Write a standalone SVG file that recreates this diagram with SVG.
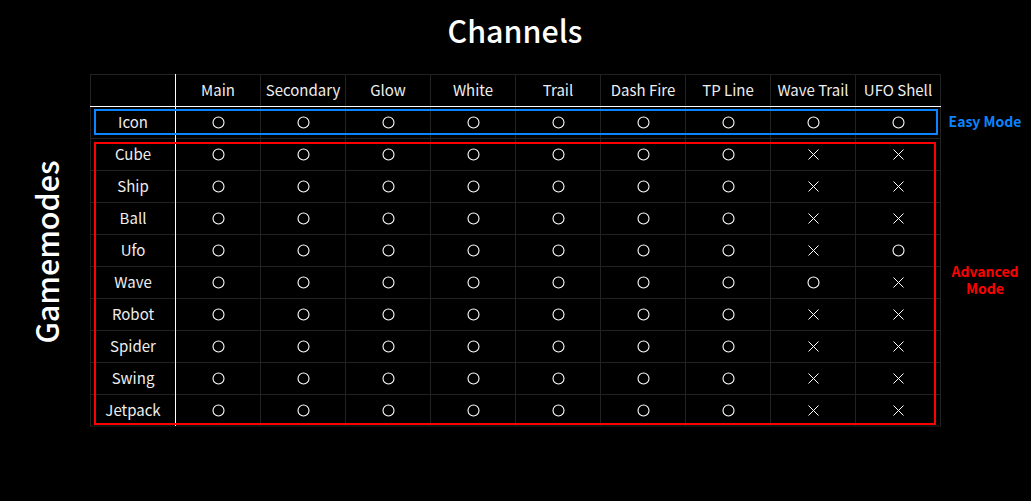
<svg xmlns="http://www.w3.org/2000/svg" width="1031" height="501" viewBox="0 0 1031 501">
<defs>
<style>
text{font-family:"Noto Sans CJK JP","Noto Sans",sans-serif;fill:#eeeeee}
.h{font-size:15px;text-anchor:middle}
.grid line{stroke:#222;stroke-width:1}
.o{fill:none;stroke:#fff;stroke-width:1.1}
.x{stroke:#fff;stroke-width:1}
.title{font-size:30.4px;text-anchor:middle;fill:#fff;font-weight:500}
.lbl{font-size:14px;font-weight:bold;text-anchor:middle}
</style>
<symbol id="O" overflow="visible"><circle class="o" cx="0" cy="0" r="5.5"/></symbol>
<symbol id="X" overflow="visible"><path class="x" d="M-5,-5L5,5M5,-5L-5,5"/></symbol>
</defs>
<rect width="1031" height="501" fill="#000"/>
<text class="title" x="515" y="43">Channels</text>
<text class="title" transform="translate(59,252) rotate(-90)">Gamemodes</text>
<g id="grid" class="grid">
<rect x="90.5" y="74.5" width="850" height="351.5" fill="none" stroke="#222"/>
<line x1="260.5" y1="74" x2="260.5" y2="426"/><line x1="345.5" y1="74" x2="345.5" y2="426"/><line x1="430.5" y1="74" x2="430.5" y2="426"/><line x1="515.5" y1="74" x2="515.5" y2="426"/><line x1="600.5" y1="74" x2="600.5" y2="426"/><line x1="685.5" y1="74" x2="685.5" y2="426"/><line x1="770.5" y1="74" x2="770.5" y2="426"/><line x1="855.5" y1="74" x2="855.5" y2="426"/>
<line x1="90" y1="138.5" x2="941" y2="138.5"/><line x1="90" y1="170.5" x2="941" y2="170.5"/><line x1="90" y1="202.5" x2="941" y2="202.5"/><line x1="90" y1="234.5" x2="941" y2="234.5"/><line x1="90" y1="266.5" x2="941" y2="266.5"/><line x1="90" y1="298.5" x2="941" y2="298.5"/><line x1="90" y1="330.5" x2="941" y2="330.5"/><line x1="90" y1="362.5" x2="941" y2="362.5"/><line x1="90" y1="394.5" x2="941" y2="394.5"/>
<line x1="90" y1="106.5" x2="941" y2="106.5" style="stroke:#fff"/>
<line x1="175.5" y1="74" x2="175.5" y2="426" style="stroke:#fff"/>
</g>
<g id="header">
<text class="h" x="218" y="96">Main</text><text class="h" x="303" y="96">Secondary</text><text class="h" x="388" y="96">Glow</text><text class="h" x="473" y="96">White</text><text class="h" x="558" y="96">Trail</text><text class="h" x="643" y="96">Dash Fire</text><text class="h" x="728" y="96">TP Line</text><text class="h" x="813" y="96">Wave Trail</text><text class="h" x="898" y="96">UFO Shell</text>
</g>
<g id="rows">
<text class="h" x="133" y="128">Icon</text>
<text class="h" x="133" y="160">Cube</text>
<text class="h" x="133" y="192">Ship</text>
<text class="h" x="133" y="224">Ball</text>
<text class="h" x="133" y="256">Ufo</text>
<text class="h" x="133" y="288">Wave</text>
<text class="h" x="133" y="320">Robot</text>
<text class="h" x="133" y="352">Spider</text>
<text class="h" x="133" y="384">Swing</text>
<text class="h" x="133" y="416">Jetpack</text>
</g>
<g id="marks">
<g id="r-icon" transform="translate(0,122.5)"><use href="#O" x="218.5"/><use href="#O" x="303.5"/><use href="#O" x="388.5"/><use href="#O" x="473.5"/><use href="#O" x="558.5"/><use href="#O" x="643.5"/><use href="#O" x="728.5"/><use href="#O" x="813.5"/><use href="#O" x="898.5"/></g>
<g id="r-cube" transform="translate(0,154.5)"><use href="#O" x="218.5"/><use href="#O" x="303.5"/><use href="#O" x="388.5"/><use href="#O" x="473.5"/><use href="#O" x="558.5"/><use href="#O" x="643.5"/><use href="#O" x="728.5"/><use href="#X" x="813.5"/><use href="#X" x="898.5"/></g>
<g id="r-ship" transform="translate(0,186.5)"><use href="#O" x="218.5"/><use href="#O" x="303.5"/><use href="#O" x="388.5"/><use href="#O" x="473.5"/><use href="#O" x="558.5"/><use href="#O" x="643.5"/><use href="#O" x="728.5"/><use href="#X" x="813.5"/><use href="#X" x="898.5"/></g>
<g id="r-ball" transform="translate(0,218.5)"><use href="#O" x="218.5"/><use href="#O" x="303.5"/><use href="#O" x="388.5"/><use href="#O" x="473.5"/><use href="#O" x="558.5"/><use href="#O" x="643.5"/><use href="#O" x="728.5"/><use href="#X" x="813.5"/><use href="#X" x="898.5"/></g>
<g id="r-ufo" transform="translate(0,250.5)"><use href="#O" x="218.5"/><use href="#O" x="303.5"/><use href="#O" x="388.5"/><use href="#O" x="473.5"/><use href="#O" x="558.5"/><use href="#O" x="643.5"/><use href="#O" x="728.5"/><use href="#X" x="813.5"/><use href="#O" x="898.5"/></g>
<g id="r-wave" transform="translate(0,282.5)"><use href="#O" x="218.5"/><use href="#O" x="303.5"/><use href="#O" x="388.5"/><use href="#O" x="473.5"/><use href="#O" x="558.5"/><use href="#O" x="643.5"/><use href="#O" x="728.5"/><use href="#O" x="813.5"/><use href="#X" x="898.5"/></g>
<g id="r-robot" transform="translate(0,314.5)"><use href="#O" x="218.5"/><use href="#O" x="303.5"/><use href="#O" x="388.5"/><use href="#O" x="473.5"/><use href="#O" x="558.5"/><use href="#O" x="643.5"/><use href="#O" x="728.5"/><use href="#X" x="813.5"/><use href="#X" x="898.5"/></g>
<g id="r-spider" transform="translate(0,346.5)"><use href="#O" x="218.5"/><use href="#O" x="303.5"/><use href="#O" x="388.5"/><use href="#O" x="473.5"/><use href="#O" x="558.5"/><use href="#O" x="643.5"/><use href="#O" x="728.5"/><use href="#X" x="813.5"/><use href="#X" x="898.5"/></g>
<g id="r-swing" transform="translate(0,378.5)"><use href="#O" x="218.5"/><use href="#O" x="303.5"/><use href="#O" x="388.5"/><use href="#O" x="473.5"/><use href="#O" x="558.5"/><use href="#O" x="643.5"/><use href="#O" x="728.5"/><use href="#X" x="813.5"/><use href="#X" x="898.5"/></g>
<g id="r-jetpack" transform="translate(0,410.5)"><use href="#O" x="218.5"/><use href="#O" x="303.5"/><use href="#O" x="388.5"/><use href="#O" x="473.5"/><use href="#O" x="558.5"/><use href="#O" x="643.5"/><use href="#O" x="728.5"/><use href="#X" x="813.5"/><use href="#X" x="898.5"/></g>
</g>
<g id="easy">
<rect x="95" y="110" width="842" height="24" fill="none" stroke="#0a84ff" stroke-width="2"/>
<text class="lbl" x="985" y="127" style="fill:#0a84ff">Easy Mode</text>
</g>
<g id="advanced">
<rect x="95" y="143" width="840" height="281" fill="none" stroke="#ff0000" stroke-width="2"/>
<text class="lbl" style="fill:#ff0000"><tspan x="985" y="277">Advanced</tspan><tspan x="985" y="294">Mode</tspan></text>
</g>
</svg>
